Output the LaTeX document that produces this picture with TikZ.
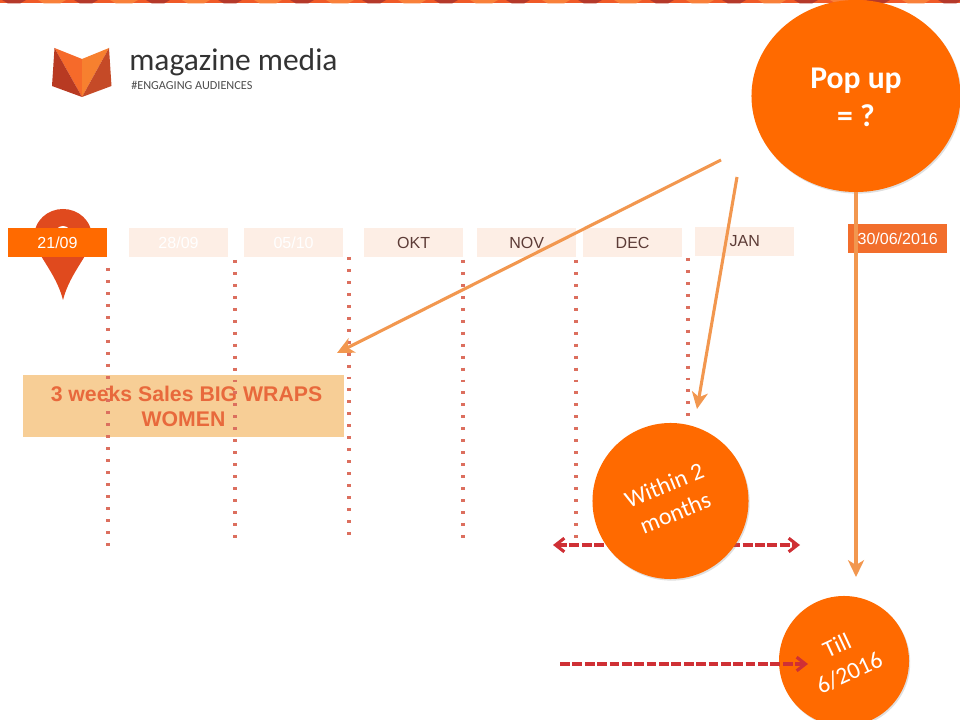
\documentclass[tikz,border=0pt]{standalone}
\usepackage{fontspec}
\setmainfont{Liberation Sans}
\newfontfamily\carlito{Carlito}
\usepackage{xcolor}
\usetikzlibrary{arrows.meta,positioning,shapes.geometric,shadows}
\definecolor{popfill}{HTML}{FF6A00}
\definecolor{datepale}{HTML}{FDEEE5}
\definecolor{dateink}{HTML}{5C3B36}
\definecolor{endfill}{HTML}{F26E2C}
\definecolor{pinred}{HTML}{E04A1E}
\definecolor{dotred}{HTML}{DC6F5E}
\definecolor{lineorange}{HTML}{F2974F}
\definecolor{dashred}{HTML}{CF3035}
\definecolor{wrapfill}{HTML}{F7CE96}
\definecolor{wrapink}{HTML}{E8693C}
\definecolor{bandred}{HTML}{F05A28}
\definecolor{bandlight}{HTML}{F9803A}
\definecolor{banddark}{HTML}{B5392A}
\definecolor{logolight}{HTML}{F66A2A}
\definecolor{logomid}{HTML}{F7802F}
\definecolor{logodark}{HTML}{B83A22}
\definecolor{logobrick}{HTML}{C54A27}

\begin{document}
\begin{tikzpicture}[
x=0.025cm, y=-0.025cm,
datebox/.style={minimum width=24.75mm, minimum height=7.25mm, inner sep=0pt, outer sep=0pt, font=\fontsize{11.4}{13}\selectfont},
palebox/.style={datebox, fill=datepale, text=dateink},
ghostbox/.style={datebox, fill=datepale, text=white},
blob/.style={circle, fill=popfill, text=white, inner sep=0pt, align=center, drop shadow={opacity=0.25, shadow xshift=0.3mm, shadow yshift=-0.4mm}},
arr/.style={-{Stealth[length=4.2mm, width=4mm, inset=1.2mm]}, lineorange, line width=2.2pt},
dashes/.style={dashred, line width=2.2pt, dash pattern=on 7pt off 1.8pt},
tick/.style={dotred, line width=2.3pt, dash pattern=on 2.1pt off 6.4pt}
]
\useasboundingbox (0,0) rectangle (960,720);
% top band
\fill[bandred] (0,0) rectangle (960,3.5);
\foreach \x in {14,86,...,950} {
  \fill[banddark] (\x-12,0) -- (\x+12,0) -- (\x+6,3.5) -- (\x-6,3.5) -- cycle;
  \fill[bandlight] (\x+24,0) -- (\x+52,0) -- (\x+46,3.5) -- (\x+30,3.5) -- cycle;
}
% logo
\fill[logolight] (54.5,48) -- (82,59) -- (82,97) -- cycle;
\fill[logomid] (82,59) -- (109,48) -- (82,97) -- cycle;
\fill[logodark] (54.5,48) -- (82,97) -- (52,86) -- cycle;
\fill[logobrick] (109,48) -- (111.5,86) -- (82,97) -- cycle;
\node[anchor=west, inner sep=0pt, font=\carlito\fontsize{22.4}{26}\selectfont, text=black!80] (brand) at (129,62) {magazine media};
\node[anchor=west, inner sep=0pt, font=\carlito\fontsize{8.7}{10}\selectfont, text=black!70] (tagline) at (131,85) {\#ENGAGING AUDIENCES};
% pin behind the first date
\fill[pinred] (63,300) .. controls (56,272) and (34,252) .. (34,238) .. controls (34,220) and (48,209) .. (63,209) .. controls (78,209) and (92,220) .. (92,238) .. controls (92,252) and (70,272) .. (63,300) -- cycle;
\fill[white] (63,234) circle (8);
% dates
\node[datebox, fill=popfill, text=white] (d2109) at (57.5,242.5) {21/09};
\node[ghostbox, right=5.5mm of d2109] (d2809) {28/09};
\node[ghostbox, right=4mm of d2809] (d0510) {05/10};
\node[palebox, right=5.25mm of d0510] (okt) {OKT};
\node[palebox, right=3.5mm of okt] (nov) {NOV};
\node[palebox, right=1.75mm of nov] (dec) {DEC};
\node[palebox, right=3.25mm of dec, yshift=0.25mm] (jan) {JAN};
\node[datebox, fill=endfill, text=white, right=13.5mm of jan, yshift=0.75mm] (end) {30/06/2016};
% sales block
\node[fill=wrapfill, text=wrapink, minimum width=80.25mm, minimum height=15.5mm, inner sep=0pt, align=center, font=\bfseries\fontsize{15.1}{17.8}\selectfont] (wraps) at (183.5,406) {\hspace*{1.5mm}3 weeks Sales BIG WRAPS\\WOMEN};
% dotted week lines
\foreach \name/\x/\ya/\yb in {a/108/268/546, b/235/260/540, c/349/257/536, d/463/260/540, e/576/260/540, f/688/258/418} {
  \coordinate (top\name) at (\x,\ya);
  \coordinate (bot\name) at (\x,\yb);
  \draw[tick] (top\name) -- (bot\name);
}
% span arrows
\coordinate (spanl) at (553,545);
\coordinate (spanr) at (800,545);
\draw[dashes, {Straight Barb[length=2.2mm, width=3.4mm]}-{Straight Barb[length=2.2mm, width=3.4mm]}] (spanl) -- (spanr);
% circles
\node[blob, minimum size=39mm, font=\carlito\fontsize{17}{21}\selectfont] (within) at (670.5,501) {\rotatebox{22}{\begin{tabular}{@{}c@{}}Within 2\\months\end{tabular}}};
\node[blob, minimum size=32.5mm, font=\carlito\fontsize{17}{21}\selectfont] (till) at (844,661) {\rotatebox{25}{\begin{tabular}{@{}c@{}}Till\\6/2016\end{tabular}}};
\node[ellipse, fill=popfill, text=white, inner sep=0pt, minimum width=52.25mm, minimum height=48mm, align=center, drop shadow={opacity=0.25, shadow xshift=0.3mm, shadow yshift=-0.4mm}, font=\carlito\bfseries\fontsize{22.5}{26.8}\selectfont] (popup) at (856,96) {\rule{0pt}{17pt}Pop up\\= ?};
% arrows from the pop up
\coordinate (from1) at (721,160);
\coordinate (to1) at (337,353);
\coordinate (from2) at (737,177);
\coordinate (to2) at (697,409);
\coordinate (to3) at (856,577);
\draw[arr] (from1) -- (to1);
\draw[arr] (from2) -- (to2);
\draw[arr] (popup.south) -- (to3);
\coordinate (runin) at (560,664);
\coordinate (runout) at (808,664);
\draw[dashes, -{Straight Barb[length=2.2mm, width=3.4mm]}] (runin) -- (runout);
\end{tikzpicture}
\end{document}
